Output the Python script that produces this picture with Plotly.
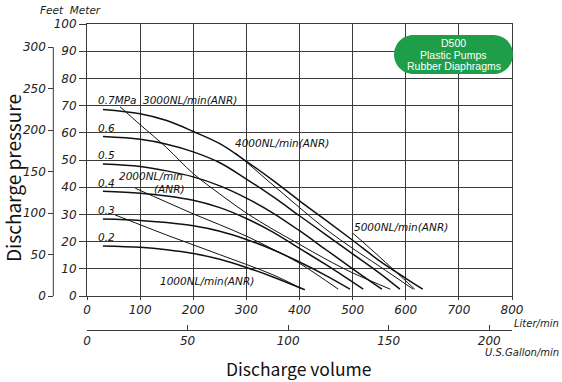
import plotly.graph_objects as go

# ---------------- data (Liter/min , meter) ----------------
p02_x = [30, 100, 150, 200, 250, 300, 350, 410]
p02_y = [18.4, 17.9, 17.0, 15.6, 13.5, 10.5, 7.0, 2.3]
p03_x = [30, 100, 150, 200, 250, 300, 350, 400, 450, 495]
p03_y = [28.3, 27.8, 27.0, 25.8, 23.8, 20.8, 17.0, 12.5, 7.5, 2.5]
p04_x = [30, 100, 150, 200, 250, 300, 350, 400, 450, 520]
p04_y = [38.5, 37.8, 36.8, 35.2, 32.5, 28.5, 23.5, 17.5, 11.5, 2.5]
p05_x = [30, 100, 150, 200, 250, 300, 350, 400, 450, 500, 555]
p05_y = [48.5, 47.6, 46.0, 43.8, 40.5, 36.0, 30.5, 24.0, 17.0, 10.0, 2.5]
p06_x = [30, 100, 150, 200, 250, 300, 350, 400, 450, 500, 550, 589]
p06_y = [58.6, 57.6, 55.8, 53.0, 49.0, 43.0, 36.5, 29.5, 22.5, 15.5, 8.5, 2.5]
p07_x = [30, 100, 150, 200, 250, 300, 350, 400, 450, 500, 550, 600, 632]
p07_y = [68.6, 67.0, 64.5, 60.5, 56.0, 49.5, 42.5, 35.0, 27.8, 20.5, 13.0, 6.5, 2.5]

a1000_x = [53, 100, 150, 200, 250, 300, 350, 403]
a1000_y = [29.8, 26.2, 22.4, 18.8, 15.2, 11.6, 7.8, 2.8]
a2000_x = [91, 150, 200, 250, 300, 350, 400, 473]
a2000_y = [39.6, 34.5, 30.2, 26.2, 22.0, 17.2, 12.0, 2.5]
a3000_x = [62, 100, 150, 200, 250, 300, 350, 400, 450, 500, 571]
a3000_y = [69.6, 63.0, 54.5, 45.0, 37.5, 30.5, 24.5, 19.0, 13.5, 8.5, 2.5]
a4000_x = [280, 300, 350, 400, 450, 500, 550, 614]
a4000_y = [52.5, 49.2, 40.8, 32.5, 24.5, 17.5, 11.0, 2.5]
a5000_x = [501, 550, 617]
a5000_y = [23.0, 14.5, 2.5]

meter_ticks = [0, 10, 20, 30, 40, 50, 60, 70, 80, 90, 100]
feet_ticks = [0, 50, 100, 150, 200, 250, 300]
liter_ticks = [0, 100, 200, 300, 400, 500, 600, 700, 800]
gallon_ticks = [0, 50, 100, 150, 200]

curve_labels = [
    ("0.7MPa", 17.5, 72.0), ("3000NL/min(ANR)", 102, 72.0),
    ("0.6", 17.5, 61.8), ("0.5", 17.5, 51.8), ("0.4", 17.5, 41.5),
    ("0.3", 17.5, 31.6), ("0.2", 17.5, 21.7),
    ("2000NL/min", 57, 44.1), ("(ANR)", 123, 39.3),
    ("4000NL/min(ANR)", 275, 56.2), ("5000NL/min(ANR)", 499, 25.4),
    ("1000NL/min(ANR)", 134, 5.5),
]

# ---------------- layout geometry ----------------
W, H = 562, 382
ML, MR, MT, MB = 40, 50, 24, 30
PW = W - ML - MR
PH = H - MT - MB
def px(x):
    return (x - ML) / PW
def py(y):
    return (H - MB - y) / PH

XD0 = px(87)
YD0 = py(296)
GAL_PER_L = 1 / 3.78541
FT_PER_M = 3.28084

fig = go.Figure()
pressure = [(p02_x, p02_y), (p03_x, p03_y), (p04_x, p04_y),
            (p05_x, p05_y), (p06_x, p06_y), (p07_x, p07_y)]
for xs, ys in pressure:
    fig.add_trace(go.Scatter(x=xs, y=ys, mode="lines", line_shape="spline",
                             line=dict(color="#111", width=1.5),
                             showlegend=False, hoverinfo="skip"))
air = [(a1000_x, a1000_y), (a2000_x, a2000_y), (a3000_x, a3000_y),
       (a4000_x, a4000_y), (a5000_x, a5000_y)]
for xs, ys in air:
    fig.add_trace(go.Scatter(x=xs, y=ys, mode="lines", line_shape="spline",
                             line=dict(color="#111", width=1.0),
                             showlegend=False, hoverinfo="skip"))

tickfont = dict(family="DejaVu Sans", size=12, color="#222")
grid = "#3a3a3a"

fig.update_layout(
    width=W, height=H,
    margin=dict(l=ML, r=MR, t=MT, b=MB, autoexpand=False),
    paper_bgcolor="white", plot_bgcolor="white",
    showlegend=False,
    xaxis=dict(domain=[XD0, 1], range=[0, 800], tickvals=liter_ticks,
               ticktext=[f"<i>{v}</i>" for v in liter_ticks],
               showgrid=True, gridcolor=grid, gridwidth=1,
               showline=True, linecolor=grid, linewidth=1, mirror=True,
               ticks="outside", ticklen=3, tickcolor=grid, automargin=False,
               zeroline=False, tickfont=tickfont, fixedrange=True),
    yaxis=dict(domain=[YD0, 1], range=[0, 100], tickvals=meter_ticks,
               ticktext=[f"<i>{v}</i>" for v in meter_ticks],
               showgrid=True, gridcolor=grid, gridwidth=1,
               showline=True, linecolor=grid, linewidth=1, mirror=True,
               ticks="outside", ticklen=7, tickcolor=grid, automargin=False,
               zeroline=False, tickfont=tickfont, fixedrange=True),
    yaxis2=dict(overlaying="y", anchor="free", position=px(53.3), side="left",
                range=[0, 100 * FT_PER_M], tickvals=feet_ticks,
                ticktext=[f"<i>{v}</i>" for v in feet_ticks],
                showgrid=False, showline=False, zeroline=False,
                ticks="outside", ticklen=5, tickcolor=grid, automargin=False,
                tickfont=tickfont, fixedrange=True),
    xaxis2=dict(overlaying="x", anchor="free", position=py(330), side="bottom",
                range=[0, 800 * GAL_PER_L], tickvals=gallon_ticks,
                ticktext=[f"<i>{v}</i>" for v in gallon_ticks],
                showgrid=False, showline=True, linecolor=grid, linewidth=1,
                zeroline=False, ticks="inside", ticklen=5, tickcolor=grid,
                automargin=False, tickfont=tickfont, fixedrange=True),
)

# dummy traces so the secondary axes are active
fig.add_trace(go.Scatter(x=[None], y=[None], yaxis="y2", showlegend=False, hoverinfo="skip"))
fig.add_trace(go.Scatter(x=[None], y=[None], xaxis="x2", showlegend=False, hoverinfo="skip"))

# feet axis line (only up to 300 ft)
fig.add_shape(type="line", xref="paper", yref="paper",
              x0=px(53.3), x1=px(53.3), y0=YD0, y1=YD0 + (1 - YD0) * 300 / (100 * FT_PER_M),
              line=dict(color=grid, width=1))

# curve labels
for txt, x, y in curve_labels:
    fig.add_annotation(x=x, y=y, xref="x", yref="y", text=f"<i>{txt}</i>",
                       showarrow=False, xanchor="left", yanchor="middle",
                       font=dict(family="DejaVu Sans", size=10.5, color="#111"))

# green badge (rounded rectangle)
L, R, T, B = 394, 513, 35, 74
r = (B - T) / 2
k = 0.5523 * r
path = (f"M {px(L + r)},{py(T)} L {px(R - r)},{py(T)} "
        f"C {px(R - r + k)},{py(T)} {px(R)},{py(T + r - k)} {px(R)},{py(T + r)} "
        f"C {px(R)},{py(T + r + k)} {px(R - r + k)},{py(B)} {px(R - r)},{py(B)} "
        f"L {px(L + r)},{py(B)} "
        f"C {px(L + r - k)},{py(B)} {px(L)},{py(T + r + k)} {px(L)},{py(T + r)} "
        f"C {px(L)},{py(T + r - k)} {px(L + r - k)},{py(T)} {px(L + r)},{py(T)} Z")
fig.add_shape(type="path", path=path, xref="paper", yref="paper",
              fillcolor="#1f9e4a", line=dict(color="#1f9e4a", width=0))
for txt, yy in [("D500", 43), ("Plastic Pumps", 55), ("Rubber Diaphragms", 66.5)]:
    fig.add_annotation(x=px(453.5), y=py(yy), xref="paper", yref="paper", text=txt,
                       showarrow=False, xanchor="center", yanchor="middle",
                       font=dict(family="Liberation Sans", size=10.5, color="white"))

# units and titles
small = dict(family="DejaVu Sans", size=10.5, color="#222")
fig.add_annotation(x=px(38), y=py(10), xref="paper", yref="paper", text="<i>Feet  Meter</i>",
                   showarrow=False, xanchor="left", yanchor="middle", font=small)
fig.add_annotation(x=px(561), y=py(323), xref="paper", yref="paper", text="<i>Liter/min</i>",
                   showarrow=False, xanchor="right", yanchor="middle", font=dict(small, size=10))
fig.add_annotation(x=px(561), y=py(353), xref="paper", yref="paper", text="<i>U.S.Gallon/min</i>",
                   showarrow=False, xanchor="right", yanchor="middle", font=dict(small, size=10))
fig.add_annotation(x=px(298), y=py(368.5), xref="paper", yref="paper", text="Discharge volume",
                   showarrow=False, xanchor="center", yanchor="middle",
                   font=dict(family="Noto Sans CJK JP", size=17.5, color="#111"))
fig.add_annotation(x=px(12), y=py(178), xref="paper", yref="paper", text="Discharge pressure",
                   showarrow=False, xanchor="center", yanchor="middle", textangle=-90,
                   font=dict(family="Noto Sans CJK JP", size=19, color="#111"))

fig.write_html("out.html", config={"displayModeBar": False},
               post_script="document.body.style.margin='0';document.body.style.overflow='hidden';")
